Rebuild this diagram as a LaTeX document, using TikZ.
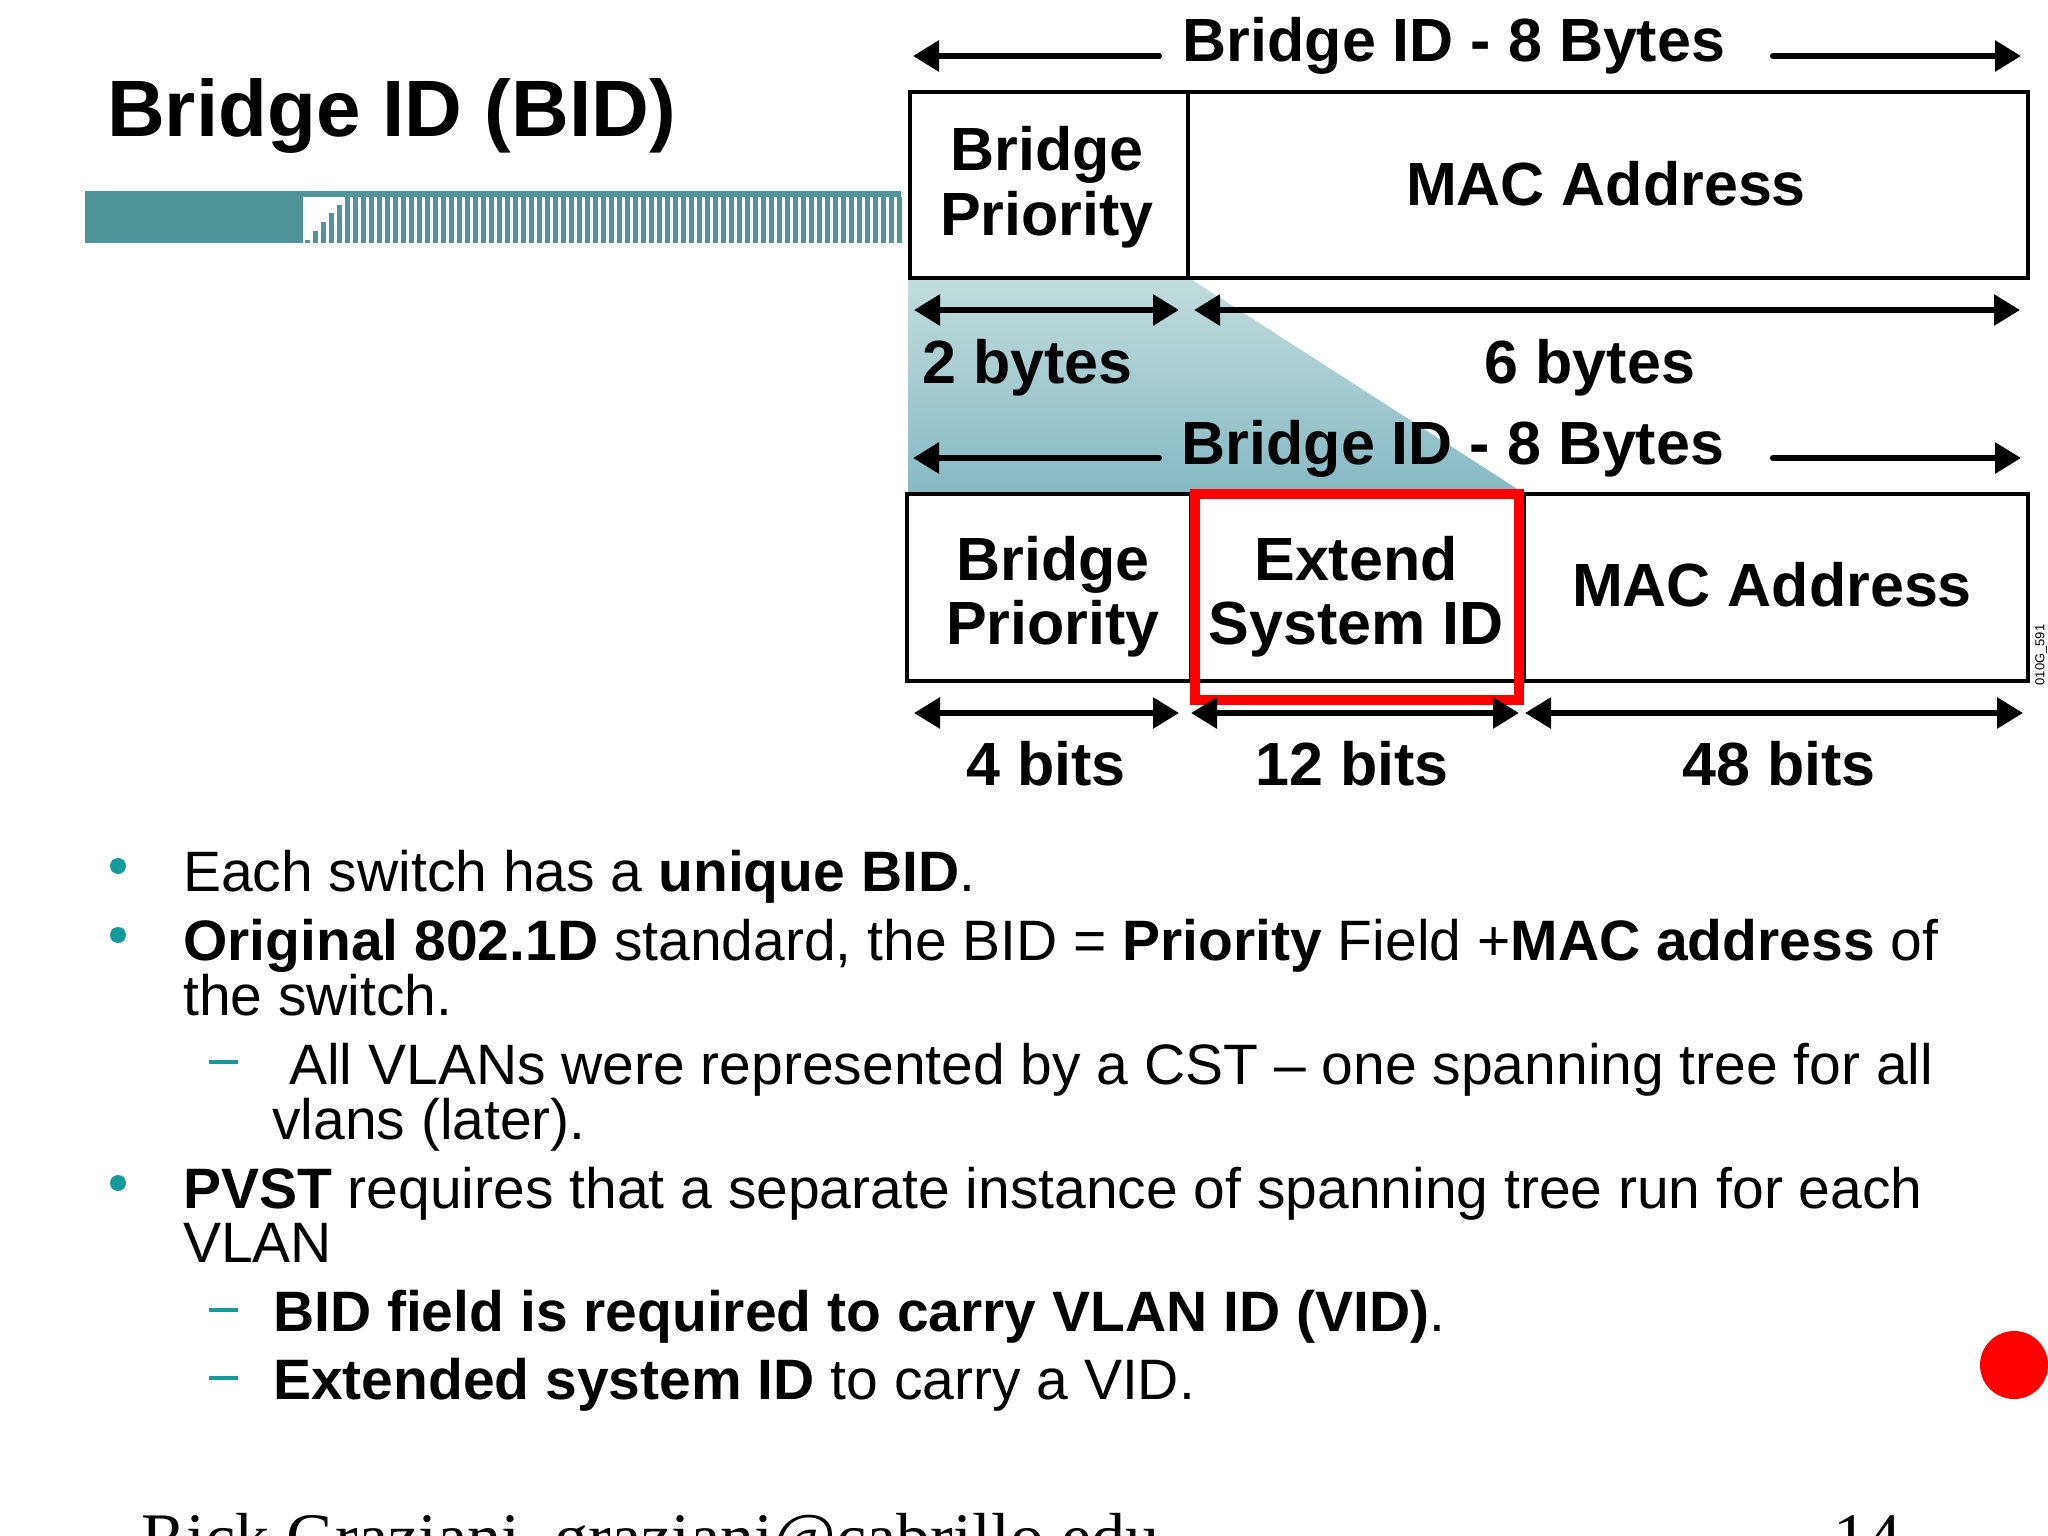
\documentclass[tikz,border=0pt]{standalone}
\usepackage{fontspec}
\setmainfont{Liberation Sans}
\newfontfamily\seriffont{Liberation Serif}
\usetikzlibrary{arrows.meta}
\definecolor{barteal}{HTML}{4F9499}
\definecolor{dotteal}{HTML}{139B9B}
\definecolor{shtop}{HTML}{C2DDDD}
\definecolor{shbot}{HTML}{86B9C4}
\tikzset{
  lbl/.style={font=\fontsize{61}{61}\selectfont\bfseries, inner sep=0, anchor=base},
  txt/.style={font=\fontsize{57}{57}\selectfont, inner sep=0, anchor=base west},
  field/.style={draw, line width=4pt, inner sep=0, anchor=north west},
  dimline/.style={line width=6pt, {Triangle[length=26pt,width=30pt]}-{Triangle[length=26pt,width=30pt]}},
  halfline/.style={line width=6pt, line cap=round, -{Triangle[length=26pt,width=30pt]}},
  bdot/.style={circle, fill=dotteal, inner sep=0, minimum size=16pt},
  bdash/.style={line width=4pt, draw=dotteal},
}
\begin{document}
\begin{tikzpicture}[x=1pt,y=1pt]
\clip (0,0) rectangle (2048,-1536);
\fill[white] (0,0) rectangle (2048,-1536);

% title
\node[font=\fontsize{80}{80}\selectfont\bfseries, inner sep=0, anchor=base west] (title) at (107,-136) {Bridge ID (BID)};

% striped bar
\fill[barteal] (85,-191) rectangle (901,-197);
\fill[barteal] (85,-197) rectangle (303,-243);
\foreach \i in {0,...,74}{
  \pgfmathsetmacro\xs{305+8*\i}
  \pgfmathsetmacro\yt{max(197,243-(8*\i+3)*1.1)}
  \fill[barteal] (\xs,-\yt) rectangle (\xs+5,-243);
}

% shaded trapezoid
\shade[top color=shtop, bottom color=shbot] (908,-276) -- (1186,-276) -- (1522,-492) -- (908,-492) -- cycle;

% top frame
\node[field, minimum width=278pt, minimum height=186pt] (bp1) at (908,-90) {};
\node[field, minimum width=840pt, minimum height=186pt] (mac1) at (1186,-90) {};
\node[lbl] (bp1a) at (1047,-170) {Bridge};
\node[lbl] (bp1b) at (1047,-235) {Priority};
\node[lbl] (mac1t) at (1606,-205) {MAC Address};

% top bridge ID arrows
\node[lbl] (bid1) at (1454,-62) {Bridge ID - 8 Bytes};
\coordinate (t1a) at (1159,-56); \coordinate (t1b) at (913,-56);
\coordinate (t1c) at (1773,-56); \coordinate (t1d) at (2021,-56);
\draw[halfline] (t1a) -- (t1b);
\draw[halfline] (t1c) -- (t1d);

% bytes arrows
\coordinate (b2a) at (914,-310); \coordinate (b2b) at (1179,-310);
\coordinate (b6a) at (1194,-310); \coordinate (b6b) at (2020,-310);
\draw[dimline] (b2a) -- (b2b);
\draw[dimline] (b6a) -- (b6b);
\node[lbl, anchor=base west] (two) at (922,-383) {2 bytes};
\node[lbl] (six) at (1590,-383) {6 bytes};

% second bridge ID arrows
\node[lbl] (bid2) at (1453,-464) {Bridge ID - 8 Bytes};
\coordinate (t2a) at (1159,-458); \coordinate (t2b) at (913,-458);
\coordinate (t2c) at (1773,-458); \coordinate (t2d) at (2021,-458);
\draw[halfline] (t2a) -- (t2b);
\draw[halfline] (t2c) -- (t2d);

% bottom frame
\node[field, minimum width=284pt, minimum height=187pt] (bp2) at (905,-492) {};
\node[field, minimum width=333pt, minimum height=187pt] (ext) at (1189,-492) {};
\node[field, minimum width=504pt, minimum height=187pt] (mac2) at (1522,-492) {};
\node[lbl] (bp2a) at (1053,-580) {Bridge};
\node[lbl] (bp2b) at (1053,-644) {Priority};
\node[lbl] (ext1) at (1356,-580) {Extend};
\node[lbl] (ext2) at (1356,-644) {System ID};
\node[lbl] (mac2t) at (1772,-606) {MAC Address};
\draw[red, line width=10pt] (1195,-494) rectangle (1519,-700);
\node[font=\fontsize{13}{13}\selectfont, inner sep=0, rotate=90, anchor=center] (code) at (2041,-655) {010G\_591};

% bits arrows
\coordinate (c4a) at (914,-713); \coordinate (c4b) at (1179,-713);
\coordinate (c12a) at (1191,-713); \coordinate (c12b) at (1519,-713);
\coordinate (c48a) at (1525,-713); \coordinate (c48b) at (2023,-713);
\draw[dimline] (c4a) -- (c4b);
\draw[dimline] (c12a) -- (c12b);
\draw[dimline] (c48a) -- (c48b);
\node[lbl] (four) at (1046,-785) {4 bits};
\node[lbl] (twelve) at (1352,-785) {12 bits};
\node[lbl] (fortyeight) at (1779,-785) {48 bits};

% bullets
\node[bdot] (d1) at (118,-866) {};
\node[txt] (l1) at (183,-891) {Each switch has a \textbf{unique BID}.};
\node[bdot] (d2) at (118,-935) {};
\node[txt] (l2) at (183,-960) {\textbf{Original 802.1D} standard, the BID = \textbf{Priority} Field +\textbf{MAC address} of};
\node[txt] (l3) at (183,-1015) {the switch.};
\coordinate (s1a) at (209,-1062); \coordinate (s1b) at (238,-1062);
\draw[bdash] (s1a) -- (s1b);
\node[txt] (l4) at (289,-1084) {All VLANs were represented by a CST – one spanning tree for all};
\node[txt] (l5) at (272,-1139) {vlans (later).};
\node[bdot] (d3) at (118,-1183) {};
\node[txt] (l6) at (183,-1208) {\textbf{PVST} requires that a separate instance of spanning tree run for each};
\node[txt] (l7) at (183,-1262) {VLAN};
\coordinate (s2a) at (209,-1310); \coordinate (s2b) at (238,-1310);
\draw[bdash] (s2a) -- (s2b);
\node[txt] (l8) at (273,-1331) {\textbf{BID field is required to carry VLAN ID (VID)}.};
\coordinate (s3a) at (209,-1378); \coordinate (s3b) at (238,-1378);
\draw[bdash] (s3a) -- (s3b);
\node[txt] (l9) at (273,-1399) {\textbf{Extended system ID} to carry a VID.};

% red dot
\node[circle, fill=red, inner sep=0, minimum size=68pt] (reddot) at (2014,-1365) {};

% footer (cut off at the bottom edge, as in the reference)
\node[font=\seriffont\fontsize{68}{68}\selectfont, inner sep=0, anchor=base west] (foot) at (141,-1560) {Rick Graziani\ \ graziani@cabrillo.edu};
\node[font=\seriffont\fontsize{68}{68}\selectfont, inner sep=0, anchor=base west] (page) at (1833,-1560) {14};
\end{tikzpicture}
\end{document}
